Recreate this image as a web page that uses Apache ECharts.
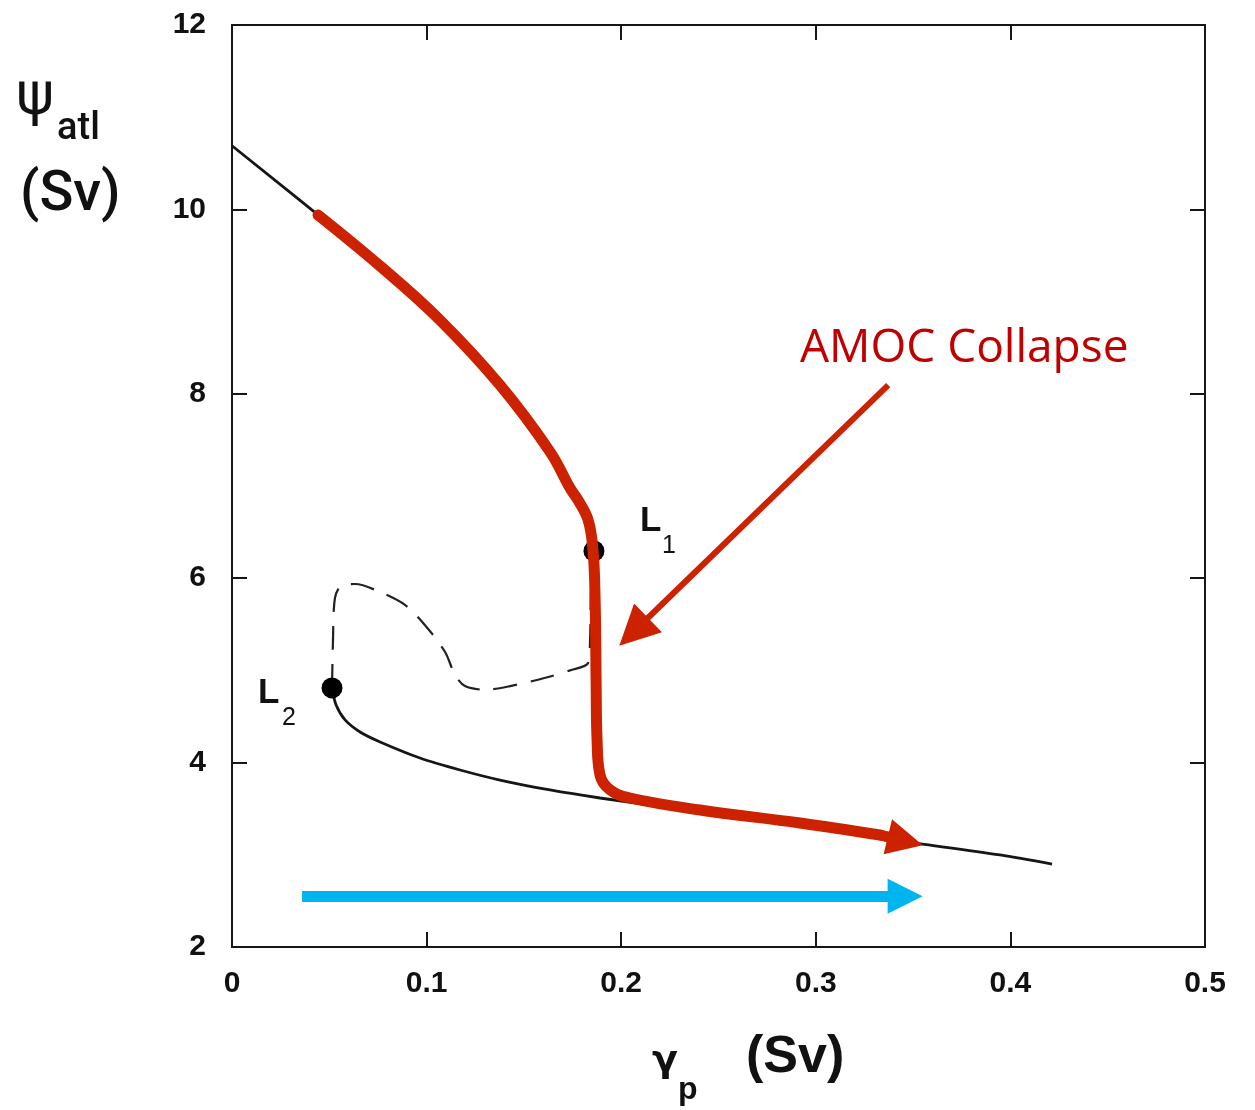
<!DOCTYPE html>
<html>
<head>
<meta charset="utf-8">
<script src="https://cdn.jsdelivr.net/npm/echarts@6/dist/echarts.min.js"></script>
<style>
  html, body { margin: 0; padding: 0; background: #fff; }
  #chart { width: 1255px; height: 1110px; }
</style>
</head>
<body>
<div id="chart"></div>
<script>
// Axis ticks
const xTicks = [0, 0.1, 0.2, 0.3, 0.4, 0.5];
const yTicks = [2, 4, 6, 8, 10, 12];

// Upper stable branch (black), from gamma_p = 0 to the fold L1
const upperX = [0, 0.0442, 0.0761, 0.1069, 0.1377, 0.1635, 0.1737, 0.1778, 0.183, 0.186];
const upperY = [10.69, 9.94, 9.386, 8.80, 8.095, 7.369, 6.978, 6.848, 6.631, 6.295];

// Lower stable branch (black), from the fold L2 onwards
const lowerX = [0.0514, 0.0535, 0.0581, 0.0658, 0.0761, 0.0966, 0.1172, 0.1377, 0.1634, 0.1891, 0.2405, 0.2919, 0.3433, 0.3947, 0.4214];
const lowerY = [4.81, 4.625, 4.463, 4.332, 4.224, 4.05, 3.92, 3.811, 3.703, 3.616, 3.464, 3.312, 3.15, 2.998, 2.90];

// Unstable branch (dashed), L2 -> L1
const unstableX = [0.0514, 0.0519, 0.0529, 0.0565, 0.0632, 0.0761, 0.0889, 0.0992, 0.1095, 0.1146, 0.1197, 0.13, 0.143, 0.161, 0.1737, 0.183, 0.184, 0.1845, 0.186];
const unstableY = [4.81, 5.33, 5.785, 5.926, 5.937, 5.85, 5.71, 5.49, 5.20, 4.95, 4.83, 4.79, 4.83, 4.92, 5.00, 5.08, 5.33, 5.87, 6.295];

// Fold points
const foldNames = ['L1', 'L2'];
const foldX = [0.186, 0.0514];
const foldY = [6.295, 4.81];

// Hysteresis path followed under increasing freshwater forcing (red)
const pathX = [0.0442, 0.0761, 0.1069, 0.1377, 0.1635, 0.1737, 0.1778, 0.183, 0.1855, 0.1866, 0.1871, 0.1876, 0.1891, 0.1943, 0.2045, 0.2405, 0.2919, 0.333];
const pathY = [9.94, 9.386, 8.80, 8.095, 7.369, 6.978, 6.848, 6.631, 6.306, 5.764, 4.896, 4.245, 3.866, 3.703, 3.616, 3.486, 3.345, 3.215];
const pathHead = [0.346, 3.149];

// Forcing arrow (blue) and annotation arrow (red)
const forcingArrow = [[0.036, 2.55], [0.3459, 2.55]];
const collapseArrow = [[0.3372, 8.095], [0.2064, 5.419]];

const pairs = (xs, ys) => xs.map((x, i) => [x, ys[i]]);

const RED = '#cc2200';
const INK = '#161616';
const tickFont = { fontFamily: 'Liberation Sans', fontWeight: 'bold', fontSize: 30, color: '#111' };

const chart = echarts.init(document.getElementById('chart'), null, { renderer: 'canvas' });

const baseAxisLine = { show: true, onZero: false, lineStyle: { color: INK, width: 2 } };
const baseTick = { show: true, inside: true, length: 15, lineStyle: { color: INK, width: 2 } };

chart.setOption({
  backgroundColor: '#ffffff',
  animation: false,
  grid: { left: 232, right: 50, top: 25, bottom: 163, containLabel: false },
  xAxis: [
    {
      type: 'value', position: 'bottom',
      min: xTicks[0], max: xTicks[xTicks.length - 1], interval: 0.1,
      axisLine: baseAxisLine, axisTick: baseTick, splitLine: { show: false },
      axisLabel: Object.assign({ margin: 22, formatter: v => (v === 0 ? '0' : v.toFixed(1)) }, tickFont)
    },
    {
      type: 'value', position: 'top',
      min: xTicks[0], max: xTicks[xTicks.length - 1], interval: 0.1,
      axisLine: baseAxisLine, axisTick: baseTick, splitLine: { show: false },
      axisLabel: { show: false }
    }
  ],
  yAxis: [
    {
      type: 'value', position: 'left',
      min: yTicks[0], max: yTicks[yTicks.length - 1], interval: 2,
      axisLine: baseAxisLine, axisTick: baseTick, splitLine: { show: false },
      axisLabel: Object.assign({ margin: 26 }, tickFont)
    },
    {
      type: 'value', position: 'right',
      min: yTicks[0], max: yTicks[yTicks.length - 1], interval: 2,
      axisLine: baseAxisLine, axisTick: baseTick, splitLine: { show: false },
      axisLabel: { show: false }
    }
  ],
  series: [
    {
      name: 'upper branch', type: 'line', data: pairs(upperX, upperY),
      smooth: 0.4, symbol: 'none', z: 2,
      lineStyle: { color: INK, width: 2.8 }
    },
    {
      name: 'lower branch', type: 'line', data: pairs(lowerX, lowerY),
      smooth: 0.3, symbol: 'none', z: 2,
      lineStyle: { color: INK, width: 2.8 }
    },
    {
      name: 'unstable branch', type: 'line', data: pairs(unstableX, unstableY),
      smooth: 0.3, symbol: 'none', z: 2,
      lineStyle: { color: '#222', width: 2.2, type: [24, 14] }
    },
    {
      name: 'folds', type: 'scatter', data: pairs(foldX, foldY),
      symbol: 'circle', symbolSize: 21, z: 3,
      itemStyle: { color: '#000', opacity: 1 }
    },
    {
      name: 'hysteresis path', type: 'line', data: pairs(pathX, pathY),
      smooth: 0.4, symbol: 'none', z: 5,
      lineStyle: { color: RED, width: 11, cap: 'round', join: 'round' }
    },
    {
      name: 'arrows', type: 'lines', coordinateSystem: 'cartesian2d', polyline: false, z: 6,
      symbol: ['none', 'triangle'],
      data: [
        {
          coords: [[pathX[pathX.length - 1], pathY[pathY.length - 1]], pathHead],
          symbolSize: [34, 36],
          lineStyle: { color: RED, width: 11, opacity: 1 }
        },
        {
          coords: forcingArrow,
          symbolSize: [36, 35],
          lineStyle: { color: '#00b4ef', width: 11, opacity: 1 }
        },
        {
          coords: collapseArrow,
          symbolSize: [34, 40],
          lineStyle: { color: RED, width: 6, opacity: 1 }
        }
      ],
      symbolSize: [34, 36]
    }
  ],
  graphic: [
    // y axis title
    { type: 'text', left: 16, top: 70, style: { text: 'ψ', font: '58px "DejaVu Sans"', fill: '#111' } },
    { type: 'text', left: 57, top: 110, style: { text: 'atl', font: '500 38px Roboto', fill: '#111' } },
    { type: 'text', left: 20, top: 168, style: { text: '(Sv)', font: '500 56px Roboto', fill: '#111' } },
    // x axis title
    { type: 'text', left: 652, top: 1042, style: { text: 'γ', font: 'bold 38px "DejaVu Sans"', fill: '#111' } },
    { type: 'text', left: 678, top: 1074, style: { text: 'p', font: 'bold 32px "Liberation Sans"', fill: '#111' } },
    { type: 'text', left: 746, top: 1032, style: { text: '(Sv)', font: 'bold 52px "Liberation Sans"', fill: '#111' } },
    // fold labels
    { type: 'text', left: 640, top: 504, style: { text: 'L', font: 'bold 35px "Liberation Sans"', fill: '#111' } },
    { type: 'text', left: 662, top: 534, style: { text: '1', font: '25px "Liberation Sans"', fill: '#111' } },
    { type: 'text', left: 258, top: 676, style: { text: 'L', font: 'bold 35px "Liberation Sans"', fill: '#111' } },
    { type: 'text', left: 282, top: 706, style: { text: '2', font: '25px "Liberation Sans"', fill: '#111' } },
    // annotation
    { type: 'text', left: 800, top: 326, style: { text: 'AMOC Collapse', font: '46px "Open Sans"', fill: '#c00000' } }
  ]
});
</script>
</body>
</html>
